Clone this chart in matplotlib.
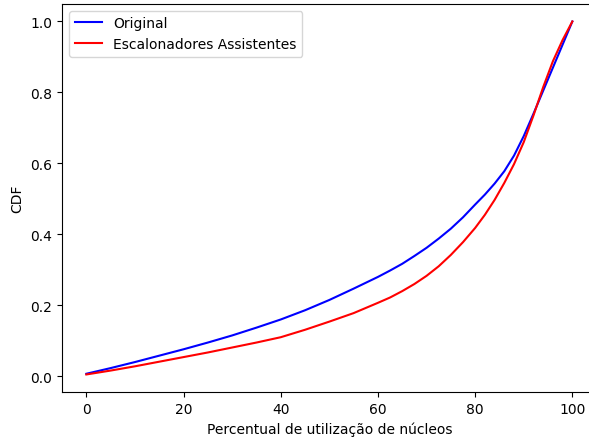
import numpy as np
import matplotlib.pyplot as plt

# utilizacao de nucleos (%) e CDF de cada escalonador
x = [0, 5, 10, 15, 20, 25, 30, 35, 40, 45, 50, 55, 60, 62.5, 65, 67.5, 70, 72.5, 75, 77.5, 80,
     82, 84, 86, 88, 90, 92, 94, 96, 98, 100]
cdf_original = [0.007, 0.023, 0.040, 0.058, 0.076, 0.095, 0.115, 0.137, 0.160, 0.186, 0.215, 0.247, 0.280,
                0.298, 0.317, 0.339, 0.362, 0.388, 0.416, 0.448, 0.484,
                0.512, 0.543, 0.578, 0.622, 0.677, 0.740, 0.805, 0.870, 0.935, 1.0]
cdf_assist = [0.005, 0.016, 0.028, 0.041, 0.054, 0.067, 0.081, 0.095, 0.110, 0.131, 0.154, 0.178, 0.207,
              0.222, 0.240, 0.260, 0.283, 0.310, 0.342, 0.378, 0.418,
              0.455, 0.497, 0.545, 0.598, 0.660, 0.735, 0.815, 0.888, 0.948, 1.0]

fig = plt.figure(figsize=(5.89, 4.39), dpi=100)
ax = fig.add_axes([0.1053, 0.1045, 0.9077, 0.8845])

ax.plot(x, cdf_original, color='blue', label='Original')
ax.plot(x, cdf_assist, color='red', label='Escalonadores Assistentes')
ax.spines['right'].set_visible(False)

ax.set_xlabel('Percentual de utilização de núcleos')
ax.set_ylabel('CDF')
ax.legend(loc='upper left')

fig.savefig('out.png', dpi=100)
